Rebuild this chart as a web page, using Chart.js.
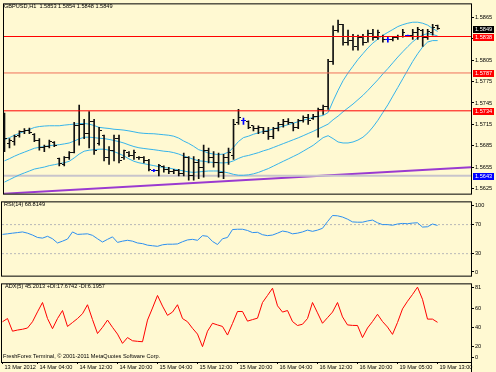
<!DOCTYPE html>
<html><head><meta charset="utf-8">
<script src="https://cdn.jsdelivr.net/npm/chart.js@4.4.0/dist/chart.umd.min.js"></script>
<style>
html,body{margin:0;padding:0;background:#fff;}
#wrap{position:relative;width:496px;height:372px;background:#FFF9D2;overflow:hidden;}
canvas{position:absolute;left:0;}
.t{position:absolute;font-family:"Liberation Sans",Arial,sans-serif;font-size:5.6px;line-height:6px;color:#000;white-space:pre;}
</style></head><body>
<div id="wrap">
<canvas id="cMain" width="496" height="198" style="top:0px"></canvas>
<canvas id="cRsi" width="496" height="82" style="top:198px"></canvas>
<canvas id="cAdx" width="496" height="92" style="top:280px"></canvas>
<div class="t" style="left:4px;top:3px">GBPUSD,H1  1.5853 1.5854 1.5848 1.5849</div>
<div class="t" style="left:4px;top:201px">RSI(14) 68.8149</div>
<div class="t" style="left:5px;top:283px">ADX(5) 45.2013 +DI:17.6742 -DI:6.1957</div>
<div class="t" style="left:3px;top:353px">FreshForex Terminal, © 2001-2011 MetaQuotes Software Corp.</div>
</div>
<script>
// ---------------- DATA ----------------
const opens = [1.5682,1.5688,1.5691,1.5699,1.5705,1.5707,1.5701,1.5692,1.5683,1.5684,
1.5690,1.5667,1.5659,1.5668,1.5675,1.5713,1.5715,1.5702,1.5719,1.5688,
1.5699,1.5668,1.5679,1.5695,1.5668,1.5676,1.5672,1.5669,1.5668,1.5664,
1.5651,1.5651,1.5656,1.5652,1.5649,1.5651,1.5646,1.5668,1.5644,1.5661,
1.5655,1.5679,1.5668,1.5661,1.5648,1.5668,1.5671,1.5717,1.5721,1.5719,
1.5713,1.5709,1.5710,1.5705,1.5698,1.5709,1.5715,1.5719,1.5717,1.5711,
1.5721,1.5725,1.5723,1.5726,1.5736,1.5740,1.5803,1.5847,1.5855,1.5830,
1.5833,1.5824,1.5836,1.5830,1.5842,1.5837,1.5838,1.5834,1.5834,1.5836,
1.5838,1.5839,1.5840,1.5844,1.5847,1.5837,1.5844,1.5853];
const highs = [1.5731,1.5695,1.5700,1.5706,1.5709,1.5710,1.5702,1.5695,1.5686,1.5693,
1.5691,1.5668,1.5670,1.5677,1.5718,1.5742,1.5722,1.5733,1.5722,1.5711,
1.5700,1.5684,1.5700,1.5700,1.5679,1.5677,1.5679,1.5670,1.5670,1.5666,
1.5652,1.5659,1.5657,1.5655,1.5652,1.5652,1.5675,1.5670,1.5670,1.5666,
1.5686,1.5682,1.5677,1.5675,1.5673,1.5682,1.5722,1.5736,1.5724,1.5720,
1.5713,1.5713,1.5711,1.5711,1.5711,1.5718,1.5722,1.5723,1.5717,1.5722,
1.5727,1.5729,1.5729,1.5738,1.5742,1.5806,1.5853,1.5861,1.5855,1.5847,
1.5841,1.5840,1.5841,1.5847,1.5848,1.5847,1.5840,1.5837,1.5837,1.5840,
1.5848,1.5840,1.5848,1.5851,1.5848,1.5848,1.5855,1.5854];
const lows = [1.5677,1.5682,1.5686,1.5697,1.5702,1.5702,1.5691,1.5679,1.5677,1.5682,
1.5684,1.5657,1.5657,1.5666,1.5675,1.5686,1.5695,1.5682,1.5673,1.5686,
1.5664,1.5659,1.5664,1.5661,1.5666,1.5670,1.5666,1.5666,1.5661,1.5650,
1.5649,1.5643,1.5648,1.5646,1.5646,1.5643,1.5643,1.5637,1.5637,1.5639,
1.5641,1.5661,1.5655,1.5641,1.5639,1.5659,1.5666,1.5715,1.5715,1.5709,
1.5706,1.5702,1.5702,1.5694,1.5695,1.5706,1.5711,1.5715,1.5706,1.5709,
1.5718,1.5715,1.5722,1.5697,1.5729,1.5736,1.5799,1.5844,1.5826,1.5826,
1.5819,1.5819,1.5826,1.5830,1.5833,1.5834,1.5830,1.5830,1.5832,1.5834,
1.5837,1.5838,1.5834,1.5834,1.5824,1.5834,1.5840,1.5848];
const closes = [1.5695,1.5692,1.5698,1.5705,1.5707,1.5703,1.5692,1.5683,1.5684,1.5691,
1.5686,1.5660,1.5668,1.5675,1.5713,1.5715,1.5702,1.5719,1.5679,1.5706,
1.5668,1.5679,1.5695,1.5665,1.5678,1.5672,1.5675,1.5668,1.5664,1.5652,
1.5651,1.5657,1.5652,1.5649,1.5651,1.5646,1.5668,1.5644,1.5661,1.5655,
1.5679,1.5668,1.5661,1.5648,1.5668,1.5675,1.5715,1.5725,1.5721,1.5711,
1.5709,1.5711,1.5705,1.5698,1.5709,1.5715,1.5719,1.5718,1.5710,1.5721,
1.5725,1.5721,1.5726,1.5736,1.5740,1.5803,1.5847,1.5855,1.5830,1.5833,
1.5824,1.5836,1.5830,1.5842,1.5837,1.5844,1.5834,1.5834,1.5836,1.5838,
1.5844,1.5839,1.5844,1.5848,1.5837,1.5845,1.5851,1.5849];

const bbUpper = [1.56938,1.56965,1.56998,1.57025,1.57053,1.57079,1.57107,1.57120,1.57127,1.57131,
1.57131,1.57131,1.57140,1.57147,1.57154,1.57161,1.57163,1.57154,1.57134,1.57109,
1.57100,1.57093,1.57082,1.57077,1.57070,1.57059,1.57046,1.57032,1.57025,1.57021,
1.57019,1.57012,1.57005,1.56998,1.56985,1.56958,1.56917,1.56884,1.56843,1.56796,
1.56775,1.56748,1.56735,1.56728,1.56735,1.56762,1.56830,1.56911,1.56965,1.56985,
1.57012,1.57032,1.57053,1.57066,1.57086,1.57107,1.57127,1.57147,1.57167,1.57188,
1.57208,1.57228,1.57248,1.57262,1.57275,1.57316,1.57478,1.57627,1.57762,1.57870,
1.57965,1.58059,1.58140,1.58221,1.58289,1.58343,1.58397,1.58438,1.58478,1.58519,
1.58546,1.58566,1.58580,1.58580,1.58566,1.58539,1.58492,1.58451];
const bbMiddle = [1.56640,1.56671,1.56705,1.56735,1.56762,1.56789,1.56816,1.56830,1.56840,1.56853,
1.56859,1.56866,1.56877,1.56890,1.56917,1.56948,1.56970,1.56971,1.56965,1.56956,
1.56951,1.56940,1.56925,1.56909,1.56889,1.56863,1.56840,1.56823,1.56813,1.56804,
1.56796,1.56786,1.56775,1.56769,1.56755,1.56735,1.56708,1.56685,1.56661,1.56640,
1.56634,1.56624,1.56617,1.56613,1.56611,1.56617,1.56640,1.56674,1.56701,1.56715,
1.56735,1.56755,1.56780,1.56800,1.56827,1.56854,1.56881,1.56908,1.56935,1.56962,
1.56992,1.57023,1.57053,1.57086,1.57120,1.57154,1.57215,1.57266,1.57327,1.57381,
1.57435,1.57496,1.57557,1.57627,1.57701,1.57775,1.57857,1.57931,1.58012,1.58093,
1.58167,1.58239,1.58307,1.58361,1.58401,1.58421,1.58408,1.58388];
const bbLower = [1.56343,1.56377,1.56411,1.56444,1.56471,1.56498,1.56525,1.56539,1.56553,1.56573,
1.56586,1.56600,1.56613,1.56634,1.56681,1.56735,1.56775,1.56789,1.56796,1.56803,
1.56803,1.56789,1.56769,1.56742,1.56708,1.56667,1.56634,1.56613,1.56600,1.56586,
1.56573,1.56559,1.56546,1.56539,1.56525,1.56512,1.56498,1.56485,1.56478,1.56485,
1.56492,1.56498,1.56498,1.56498,1.56485,1.56471,1.56451,1.56438,1.56438,1.56444,
1.56458,1.56478,1.56505,1.56532,1.56566,1.56600,1.56634,1.56667,1.56701,1.56735,
1.56775,1.56816,1.56857,1.56911,1.56965,1.56992,1.56951,1.56904,1.56890,1.56890,
1.56904,1.56931,1.56971,1.57032,1.57113,1.57208,1.57316,1.57424,1.57546,1.57667,
1.57789,1.57911,1.58032,1.58140,1.58235,1.58303,1.58323,1.58323];

const rsi = [56.5,57.3,58.2,59.0,59.9,58.2,55.6,52.3,51.4,53.9,
50.5,44.7,47.2,50.1,59.9,56.5,56.9,57.3,55.2,50.5,
46.0,49.7,53.1,45.5,47.2,48.4,47.2,44.7,43.8,41.7,
40.9,40.1,42.2,43.0,43.0,43.4,46.4,48.9,49.7,48.4,
54.8,53.9,46.8,42.6,50.5,52.3,63.2,63.6,63.6,61.9,
59.0,59.4,56.1,54.8,55.6,58.2,61.1,59.9,57.3,58.2,
59.9,62.4,60.7,62.4,64.9,74.1,82.5,82.1,80.4,77.5,
73.7,73.3,73.3,75.0,76.2,72.5,70.0,70.0,69.1,70.8,
71.6,71.2,72.1,72.5,66.6,67.0,70.8,68.8];
const adx = [45.8,49.1,36.0,37.2,38.0,39.3,45.8,56.0,65.7,49.1,
38.6,49.1,57.4,40.9,45.0,49.1,54.1,63.4,48.0,33.6,
40.0,47.5,40.0,33.0,23.4,29.4,26.1,25.5,25.1,47.5,
60.0,73.0,62.0,52.4,55.8,63.4,49.1,45.8,39.0,33.0,
20.0,36.0,44.2,42.5,40.9,32.0,44.0,56.4,56.4,46.4,
48.0,49.5,65.7,73.0,80.5,62.3,55.8,57.4,46.0,41.9,
43.2,49.1,65.7,55.0,44.2,50.0,55.8,65.7,50.8,42.5,
42.0,41.9,29.4,39.3,46.0,53.5,46.0,40.3,32.7,45.0,
59.1,67.0,74.0,81.6,69.0,48.5,48.5,45.2];

const redLevels = [1.5838, 1.5787, 1.5734];
const supportLevel = 1.5643;
const trendX = [-0.1, 93.7];
const trendY = [1.5618, 1.5655];
const lastPrice = 1.5849;

const priceTicks = [1.5865,1.5835,1.5805,1.5775,1.5745,1.5715,1.5685,1.5655,1.5625];
const rsiLevels = [70, 30];
const rsiTicks = [100, 70, 30, 0];
const adxTicks = [81, 60, 40, 20, 0];
const timeTickIdx = [0,7,15,23,31,39,47,55,63,71,79,87];
const timeTickText = ['13 Mar 2012','14 Mar 04:00','14 Mar 12:00','14 Mar 20:00','15 Mar 04:00','15 Mar 12:00','15 Mar 20:00','16 Mar 04:00','16 Mar 12:00','16 Mar 20:00','19 Mar 05:00','19 Mar 13:00'];

// ---------------- STYLE ----------------
const FONT = '"Liberation Sans", Arial, sans-serif';
Chart.defaults.font.family = FONT;
Chart.defaults.font.size = 5.6;
Chart.defaults.color = '#000';
const X_MIN = -0.1, X_MAX = 93.7;
const BAND = '#36b4ea';

const pts = arr => arr.map((v, i) => ({x: i, y: v}));
const hline = v => [{x: X_MIN, y: v}, {x: X_MAX, y: v}];
const barColor = i => opens[i] === closes[i] ? '#0000ff' : '#101010';

function tickImg(color, side) {
  const c = document.createElement('canvas'); c.width = 5; c.height = 1;
  const g = c.getContext('2d'); g.fillStyle = color;
  g.fillRect(side === 'open' ? 0 : 3, 0, 2, 1);
  return c;
}
const imgs = {};
['#101010', '#0000ff'].forEach(c => { imgs[c] = {open: tickImg(c, 'open'), close: tickImg(c, 'close')}; });

const frame = {
  id: 'frame',
  beforeDraw(chart) { chart.ctx.imageSmoothingEnabled = false; },
  afterDraw(chart) {
    const {ctx, chartArea: a} = chart;
    ctx.save(); ctx.strokeStyle = '#000'; ctx.lineWidth = 1;
    ctx.strokeRect(a.left - 0.5, a.top - 0.5, a.right - a.left + 1, a.bottom - a.top + 1);
    if (chart.canvas.id === 'cAdx') {
      ctx.beginPath(); ctx.moveTo(a.right + 0.5, a.bottom); ctx.lineTo(a.right + 0.5, chart.height); ctx.stroke();
    }
    ctx.restore();
  }
};

const priceBoxes = {
  id: 'priceBoxes',
  afterDraw(chart) {
    if (chart.canvas.id !== 'cMain') return;
    const s = chart.scales.y, ctx = chart.ctx;
    const boxes = [[lastPrice, '#000000'], [redLevels[0], '#ff0000'], [redLevels[1], '#ff0000'], [redLevels[2], '#ff0000'], [supportLevel, '#0000ff']];
    ctx.save();
    ctx.font = '5.6px ' + FONT; ctx.textBaseline = 'middle'; ctx.textAlign = 'left';
    boxes.forEach(([v, bg]) => {
      const y = Math.round(s.getPixelForValue(v));
      ctx.fillStyle = bg; ctx.fillRect(473, y - 3, 21, 7);
      ctx.fillStyle = '#ffffff'; ctx.fillText(v.toFixed(4), 475, y + 0.5);
    });
    ctx.restore();
  }
};

function yAxis(min, max, vals, labels, hPx, topPx, botPx) {
  const u = (max - min) / hPx;
  return {
    position: 'right', min, max,
    afterFit(s) { s.width = 25; },
    afterBuildTicks(s) {
      s.ticks = vals.map(v => ({value: Math.min(Math.max(v, min + botPx * u), max - topPx * u)}));
    },
    ticks: {autoSkip: false, padding: 1, color: '#000', font: {size: 5.6}, callback: (v, i) => String(labels[i])},
    grid: {drawOnChartArea: false, drawTicks: true, tickLength: 3, color: '#000'},
    border: {display: true, color: '#000', width: 1}
  };
}
function xAxis(show) {
  const ax = {type: 'linear', min: X_MIN, max: X_MAX, offset: false, display: show};
  if (show) {
    Object.assign(ax, {
      afterFit(s) { s.height = 10; },
      afterBuildTicks(s) { s.ticks = timeTickIdx.map(v => ({value: v})); },
      ticks: {autoSkip: false, maxRotation: 0, minRotation: 0, align: 'start', labelOffset: 2, padding: 0, color: '#000', font: {size: 5.6},
              callback: (v, i) => timeTickText[i]},
      grid: {drawOnChartArea: false, drawTicks: true, tickLength: 2, color: '#000', offset: false},
      border: {display: true, color: '#000'}
    });
  }
  return ax;
}
const common = {
  responsive: false, animation: false, devicePixelRatio: 1,
  plugins: {legend: {display: false}, tooltip: {enabled: false}},
  events: []
};
const lineDs = (data, color, extra) => Object.assign({type: 'line', data, borderColor: color, borderWidth: 1, pointRadius: 0, tension: 0, fill: false}, extra || {});

// ---------------- MAIN ----------------
new Chart(document.getElementById('cMain'), {
  type: 'line',
  data: {datasets: [
    lineDs(trendX.map((x, k) => ({x, y: trendY[k]})), '#9a3ad0', {borderWidth: 2, order: 6}),
    lineDs(hline(supportLevel), '#c8c4cc', {borderWidth: 2, order: 5}),
    lineDs(pts(bbUpper), BAND, {order: 4}),
    lineDs(pts(bbMiddle), BAND, {order: 4}),
    lineDs(pts(bbLower), BAND, {order: 4}),
    {type: 'bar', data: highs.map((h, i) => ({x: i, y: [lows[i], h]})), barThickness: 1, borderWidth: 0,
     backgroundColor: ctx => barColor(ctx.dataIndex), order: 2},
    {type: 'line', showLine: false, data: pts(opens), pointRadius: 3, borderWidth: 0,
     pointStyle: ctx => imgs[barColor(ctx.dataIndex)].open, order: 2},
    {type: 'line', showLine: false, data: pts(closes), pointRadius: 3, borderWidth: 0,
     pointStyle: ctx => imgs[barColor(ctx.dataIndex)].close, order: 2},
    lineDs(hline(redLevels[0]), '#ff0000', {order: 0}),
    lineDs(hline(redLevels[1]), '#f0705a', {order: 0}),
    lineDs(hline(redLevels[2]), '#ff0000', {order: 0})
  ]},
  options: Object.assign({}, common, {
    layout: {padding: {top: 1, bottom: 1, left: 2, right: 0}},
    scales: {x: xAxis(false), y: yAxis(1.56181, 1.58830, priceTicks, priceTicks.map(v => v.toFixed(4)), 196, 0, 0)}
  }),
  plugins: [frame, priceBoxes]
});

// ---------------- RSI ----------------
new Chart(document.getElementById('cRsi'), {
  type: 'line',
  data: {datasets: [
    lineDs(hline(rsiLevels[0]), '#b8b8b8', {borderDash: [2, 2], order: 3}),
    lineDs(hline(rsiLevels[1]), '#b8b8b8', {borderDash: [2, 2], order: 3}),
    lineDs(pts(rsi), '#2c8ff0', {order: 1})
  ]},
  options: Object.assign({}, common, {
    layout: {padding: {top: 1, bottom: 1, left: 2, right: 0}},
    scales: {x: xAxis(false), y: yAxis(-0.25, 100.6, rsiTicks, rsiTicks, 80, 3, 4)}
  }),
  plugins: [frame]
});

// ---------------- ADX ----------------
new Chart(document.getElementById('cAdx'), {
  type: 'line',
  data: {datasets: [
    lineDs(pts(adx), '#ff0000', {order: 1})
  ]},
  options: Object.assign({}, common, {
    layout: {padding: {top: 1, bottom: 0, left: 2, right: 0}},
    scales: {x: xAxis(true), y: yAxis(4.1, 84.5, adxTicks, adxTicks, 81, 3, 5)}
  }),
  plugins: [frame]
});
</script>
</body></html>
